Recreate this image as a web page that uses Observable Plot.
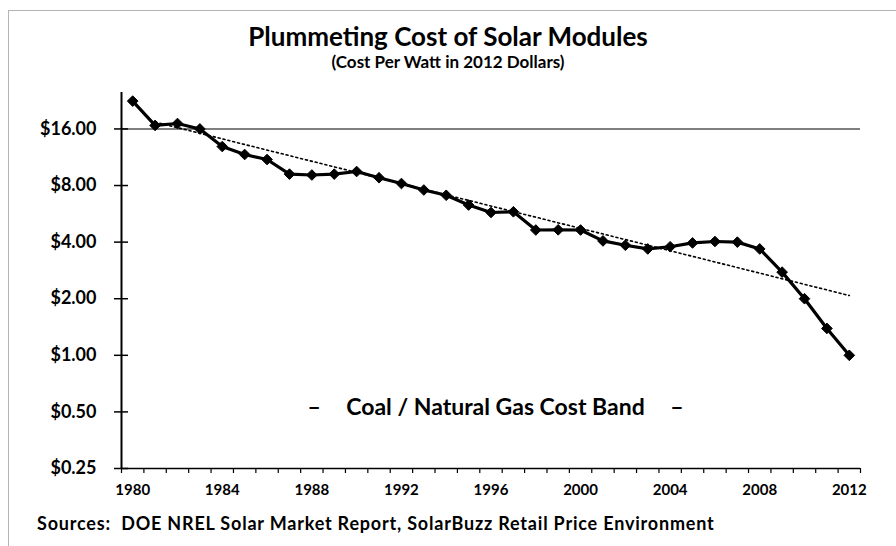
<!DOCTYPE html>
<html><head><meta charset="utf-8">
<script src="https://cdn.jsdelivr.net/npm/d3@7"></script>
<script src="https://cdn.jsdelivr.net/npm/@observablehq/plot@0.6"></script>
<style>
body{margin:0;background:#fff;font-family:Lato,"Open Sans",sans-serif;color:#000;}
#wrap{position:relative;width:896px;height:546px;overflow:hidden;background:#fff;}
#border{position:absolute;left:8px;top:10px;width:920px;height:560px;border-left:1px solid #b4b4b4;border-top:1px solid #b4b4b4;}
#title{position:absolute;top:21px;left:0;width:896px;text-align:center;font-weight:700;font-size:26px;line-height:30px;}
#subtitle{position:absolute;top:52px;left:0;width:896px;text-align:center;font-weight:700;font-size:17px;line-height:20px;}
#chart{position:absolute;top:80px;left:0;}
#caption{position:absolute;top:512px;left:37px;font-weight:700;font-size:18px;line-height:22px;letter-spacing:0.8px;}
</style>
</head><body>
<div id="wrap">
<div id="border"></div>
<div id="title">Plummeting Cost of Solar Modules</div>
<div id="subtitle">(Cost Per Watt in 2012 Dollars)</div>
<div id="chart"></div>
<div id="caption">Sources:&nbsp; DOE NREL Solar Market Report, SolarBuzz Retail Price Environment</div>
</div>
<script>
const years = [1980,1981,1982,1983,1984,1985,1986,1987,1988,1989,1990,1991,1992,1993,1994,1995,1996,1997,1998,1999,2000,2001,2002,2003,2004,2005,2006,2007,2008,2009,2010,2011,2012];
const cost = [22.5,16.7,17.1,16.0,12.9,11.7,11.0,9.2,9.1,9.2,9.5,8.8,8.2,7.57,7.1,6.3,5.75,5.8,4.64,4.65,4.64,4.06,3.85,3.68,3.78,3.96,4.03,4.0,3.68,2.77,2.0,1.39,1.0];
const trendYears = [1981, 2012];
const trendCost = [17.4, 2.08];
const yTicks = [0.25,0.5,1,2,4,8,16];
const yTop = 25;
const xLabels = [1980,1984,1988,1992,1996,2000,2004,2008,2012];
const bandLevel = [16];
const noteX = [1988.1, 1996.2, 2004.3];
const noteY = [0.53, 0.53, 0.53];
const noteLabels = ["\u2013", "Coal / Natural Gas Cost Band", "\u2013"];

const data = years.map((y,i)=>({year:y, cost:cost[i]}));
const trend = trendYears.map((y,i)=>({year:y, cost:trendCost[i]}));
const notes = noteLabels.map((t,i)=>({x:noteX[i], y:noteY[i], t}));
const xDomain = [years[0]-0.5, years[years.length-1]+0.5];
const bounds = years.map(y=>y-0.5).concat([xDomain[1]]);

const chart = Plot.plot({
  width: 896, height: 430,
  marginLeft: 121, marginRight: 36, marginTop: 12, marginBottom: 42,
  style: {fontFamily: "Lato, sans-serif", color: "#000", background: "transparent", overflow: "visible"},
  x: {type: "linear", domain: xDomain, label: null},
  y: {type: "log", base: 2, domain: [yTicks[0], yTop], label: null},
  marks: [
    Plot.ruleY(bandLevel, {stroke: "#555", strokeWidth: 1.5}),
    Plot.line(trend, {x: "year", y: "cost", stroke: "#000", strokeWidth: 1.6, strokeDasharray: "2,3"}),
    Plot.line(data, {x: "year", y: "cost", stroke: "#000", strokeWidth: 3.2}),
    Plot.dot(data, {x: "year", y: "cost", symbol: "diamond2", r: 4.8, fill: "#000", stroke: "#000", strokeWidth: 1}),
    Plot.ruleX([xDomain[0]], {stroke: "#000", strokeWidth: 2}),
    Plot.ruleY([yTicks[0]], {stroke: "#000", strokeWidth: 1.5}),
    Plot.axisY(yTicks, {tickSize: 0, tickPadding: 25, tickFormat: d => "$" + d.toFixed(2), fontSize: 18, fontWeight: "bold", label: null}),
    Plot.axisY(yTicks, {tickSize: 14, dx: 7, tickFormat: () => "", strokeWidth: 1.5, label: null}),
    Plot.axisX(bounds, {tickSize: 5, tickFormat: () => "", strokeWidth: 1.2, label: null}),
    Plot.axisX(xLabels, {tickSize: 0, tickPadding: 16, tickFormat: d => String(d), fontSize: 15, fontWeight: "bold", label: null}),
    Plot.text(notes, {x: "x", y: "y", text: "t", fontSize: 23, fontWeight: "bold", fill: "#000"})
  ]
});
document.getElementById("chart").appendChild(chart);
</script>
</body></html>
